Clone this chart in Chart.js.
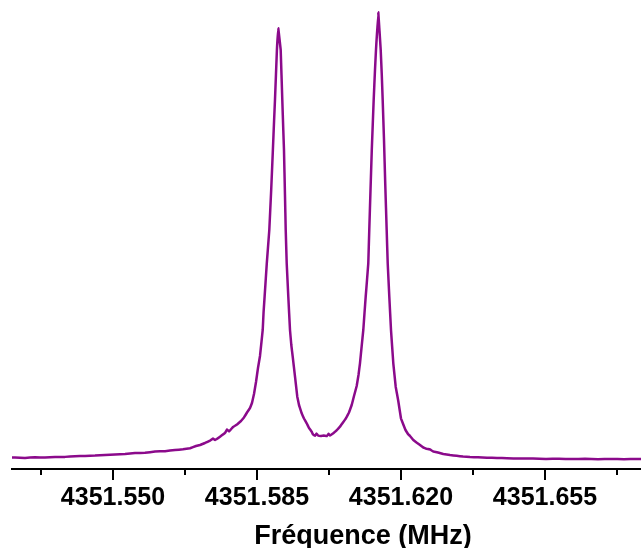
<!DOCTYPE html>
<html>
<head>
<meta charset="utf-8">
<script src="https://cdn.jsdelivr.net/npm/chart.js@4"></script>
<style>
  html, body { margin: 0; padding: 0; background: #fff; overflow: hidden; }
  #cadre { width: 641px; height: 548px; overflow: hidden; }
</style>
</head>
<body>
<div id="cadre"><canvas id="graficoSpectre" width="714" height="548"></canvas></div>
<script>
// ================= Données du spectre =================
var frequences = [
  4351.52375, 4351.52618, 4351.52861, 4351.53104, 4351.53347, 4351.53590, 4351.53833, 4351.54076,
  4351.54320, 4351.54563, 4351.54806, 4351.55049, 4351.55292, 4351.55535, 4351.55778, 4351.56021,
  4351.56264, 4351.56507, 4351.56701, 4351.56872, 4351.57017, 4351.57115, 4351.57236, 4351.57358,
  4351.57431, 4351.57479, 4351.57601, 4351.57722, 4351.57771, 4351.57819, 4351.57917, 4351.58014,
  4351.58111, 4351.58184, 4351.58257, 4351.58330, 4351.58378, 4351.58427, 4351.58476, 4351.58524,
  4351.58573, 4351.58609, 4351.58639, 4351.58660, 4351.58685, 4351.58738, 4351.58799,
  4351.58845, 4351.58886, 4351.58916, 4351.58937, 4351.58984, 4351.59018,
  4351.59076, 4351.59115, 4351.59139, 4351.59156, 4351.59180, 4351.59198, 4351.59222, 4351.59261,
  4351.59302, 4351.59334, 4351.59368, 4351.59424, 4351.59479, 4351.59521, 4351.59586, 4351.59642,
  4351.59708, 4351.59764, 4351.59829, 4351.59861, 4351.59910, 4351.59946, 4351.59983, 4351.60055,
  4351.60128, 4351.60201, 4351.60238, 4351.60274, 4351.60354, 4351.60432, 4351.60517, 4351.60590,
  4351.60663, 4351.60736, 4351.60802, 4351.60858, 4351.60923, 4351.60967, 4351.61003, 4351.61045,
  4351.61084, 4351.61113, 4351.61142, 4351.61174, 4351.61205, 4351.61229, 4351.61259, 4351.61290,
  4351.61336, 4351.61368, 4351.61392, 4351.61448,
  4351.61507, 4351.61533, 4351.61555, 4351.61587, 4351.61618, 4351.61652, 4351.61677, 4351.61716,
  4351.61757, 4351.61813, 4351.61871, 4351.61934, 4351.62000, 4351.62061, 4351.62109, 4351.62170,
  4351.62219, 4351.62299, 4351.62377, 4351.62462, 4351.62542, 4351.62620, 4351.62705, 4351.62785,
  4351.62899, 4351.63028, 4351.63191, 4351.63354, 4351.63507, 4351.63677, 4351.63871, 4351.64090,
  4351.64333, 4351.64576, 4351.64892, 4351.65208, 4351.65524, 4351.65840, 4351.66156, 4351.66472,
  4351.66788, 4351.67104, 4351.67420, 4351.67736, 4351.68052, 4351.68781, 4351.69753
];

var intensites = [
  0.0004, 0.0013, 0.0002, 0.0018, 0.0009, 0.0022, 0.0025, 0.0040,
  0.0047, 0.0054, 0.0067, 0.0081, 0.0088, 0.0110, 0.0117, 0.0144,
  0.0153, 0.0179, 0.0195, 0.0218, 0.0269, 0.0292, 0.0337, 0.0390,
  0.0438, 0.0404, 0.0476, 0.0561, 0.0639, 0.0595, 0.0696, 0.0752,
  0.0830, 0.0909, 0.1021, 0.1122, 0.1234, 0.1436, 0.1705, 0.2019,
  0.2289, 0.2603, 0.2872, 0.3276, 0.3619, 0.4368, 0.5116,
  0.6013, 0.6911, 0.7584, 0.8032, 0.9154, 0.9641,
  0.9154, 0.8032, 0.7359, 0.6911, 0.5901, 0.5116, 0.4368, 0.3619,
  0.2872, 0.2535, 0.2273, 0.1824, 0.1375, 0.1189, 0.1003, 0.0886,
  0.0779, 0.0673, 0.0590, 0.0527, 0.0500, 0.0550, 0.0505, 0.0494,
  0.0503, 0.0494, 0.0543, 0.0503, 0.0554, 0.0617, 0.0702, 0.0797,
  0.0891, 0.1021, 0.1189, 0.1391, 0.1615, 0.1862, 0.2125, 0.2513,
  0.2872, 0.3253, 0.3619, 0.3994, 0.4368, 0.5116, 0.6013, 0.6911,
  0.8032, 0.8705, 0.9154, 1.0000,
  0.9154, 0.8593, 0.8032, 0.7135, 0.6125, 0.5116, 0.4368, 0.3619,
  0.2872, 0.2125, 0.1600, 0.1279, 0.0886, 0.0740, 0.0628, 0.0538,
  0.0494, 0.0404, 0.0348, 0.0292, 0.0236, 0.0206, 0.0191, 0.0146,
  0.0123, 0.0090, 0.0067, 0.0049, 0.0031, 0.0020, 0.0016, 0.0007,
  0.0002, -0.0007, -0.0013, -0.0009, -0.0020, -0.0016, -0.0025, -0.0018,
  -0.0027, -0.0020, -0.0027, -0.0022, -0.0025, -0.0022, -0.0024
];

// graduations de l'axe des fréquences (majeures avec texte, mineures sans)
var graduations = [4351.5325, 4351.550, 4351.5675, 4351.585, 4351.6025, 4351.620, 4351.6375, 4351.655, 4351.6725, 4351.690];
var etiquettes = ['', '4351.550', '', '4351.585', '', '4351.620', '', '4351.655', '', ''];
var majeures = [false, true, false, true, false, true, false, true, false, true];

var xMin = 4351.52545;
var xMax = 4351.69608;
var yMin = -0.0247;
var yMax = 1.0276;


// ================= Petits traits de graduation (majeurs / mineurs) =================
var pluginGraduations = {
    id: 'graduations',
    afterDraw(chart) {
        const axe = chart.scales.x;
        const ctx = chart.ctx;
        const y0 = chart.chartArea.bottom;
        ctx.save();
        ctx.strokeStyle = '#000';
        ctx.lineWidth = 2;
        axe.ticks.forEach((t, i) => {
            const px = Math.round(axe.getPixelForValue(t.value));
            const longueur = majeures[i] ? 11 : 6;
            ctx.beginPath();
            ctx.moveTo(px, y0);
            ctx.lineTo(px, y0 + longueur);
            ctx.stroke();
        });
        ctx.restore();
    }
};


// ================= Graphique =================
var points = frequences.map((f, i) => ({ x: f, y: intensites[i] }));

var chartSpectre = new Chart(document.getElementById('graficoSpectre'), {
    type: 'line',
    data: {
        datasets: [{
            label: 'Spectre',
            data: points,
            borderColor: '#8b0a8b',
            borderWidth: 2.5,
            borderJoinStyle: 'round',
            borderCapStyle: 'round',
            pointRadius: 0,
            fill: false,
            // une tension minime évite le tracé "rapide" qui crée des petits traits verticaux
            tension: 0.02
        }]
    },
    options: {
        responsive: false,
        animation: false,
        layout: { padding: { left: 12, right: 0, top: 0, bottom: 0 } },
        plugins: {
            legend: { display: false },
            tooltip: { enabled: false }
        },
        scales: {
            x: {
                type: 'linear',
                min: xMin,
                max: xMax,
                afterBuildTicks: (axe) => { axe.ticks = graduations.map(v => ({ value: v })); },
                afterFit: (axe) => { axe.height = 79; axe.paddingLeft = 0; axe.paddingRight = 0; },
                border: { display: true, color: '#000', width: 2 },
                grid: { drawOnChartArea: false, drawTicks: true, tickLength: 10, tickColor: 'rgba(0,0,0,0)' },
                ticks: {
                    autoSkip: false,
                    maxRotation: 0,
                    padding: 4,
                    color: '#000',
                    font: { family: '"Liberation Sans", Arial, sans-serif', size: 25, weight: 'bold' },
                    callback: (valeur, index) => etiquettes[index]
                },
                title: {
                    display: true,
                    text: 'Fréquence (MHz)',
                    color: '#000',
                    padding: { top: 0, bottom: 0 },
                    font: { family: '"Liberation Sans", Arial, sans-serif', size: 27, weight: 'bold', lineHeight: 0.85 }
                }
            },
            y: {
                display: false,
                min: yMin,
                max: yMax
            }
        }
    },
    plugins: [pluginGraduations]
});
</script>
</body>
</html>
